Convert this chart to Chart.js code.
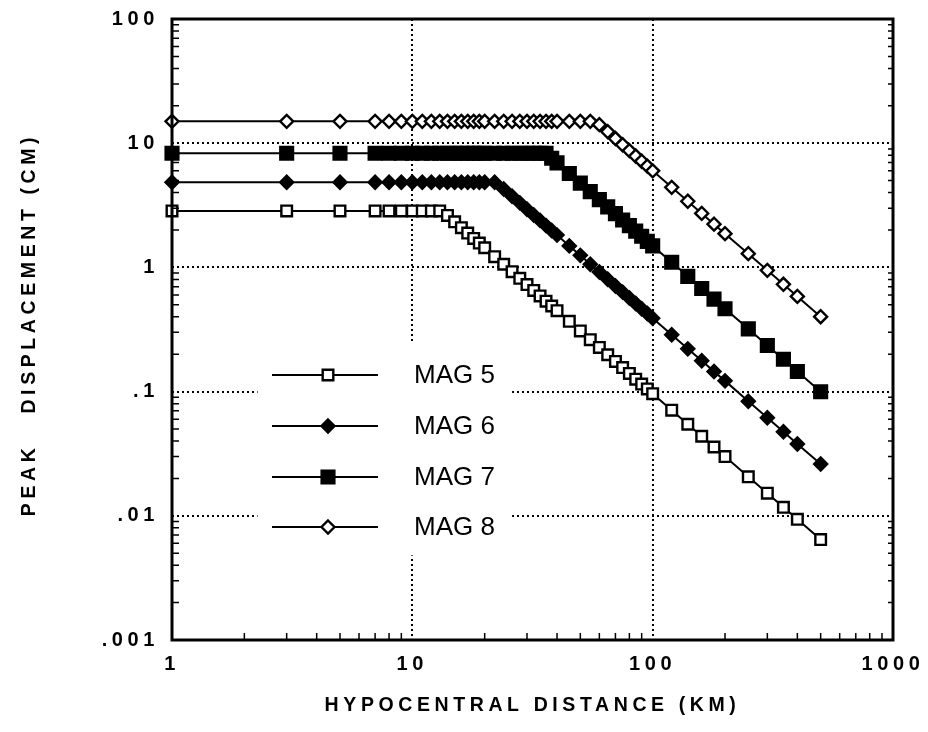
<!DOCTYPE html>
<html><head><meta charset="utf-8">
<script src="https://cdn.jsdelivr.net/npm/chart.js@4.4.1/dist/chart.umd.min.js"></script>
<style>html,body{margin:0;padding:0;background:#fff}#wrap{width:928px;height:732px}</style>
</head><body><div id="wrap"><canvas id="c" width="928" height="732"></canvas></div>
<script>
// ---- data ----
const distances = [1,3,5,7,8,9,10,11,12,13,14,15,16,17,18,19,20,22,24,26,28,30,32,34,36,38,40,45,50,55,60,65,70,75,80,85,90,95,100,120,140,160,180,200,250,300,350,400,500];
const mag5 = [2.85,2.85,2.85,2.85,2.85,2.85,2.85,2.85,2.85,2.85,2.62,2.33,2.09,1.89,1.71,1.57,1.44,1.22,1.06,0.924,0.816,0.727,0.652,0.589,0.535,0.489,0.448,0.368,0.308,0.262,0.227,0.198,0.175,0.156,0.140,0.126,0.115,0.105,0.0962,0.0708,0.0546,0.0437,0.0358,0.0300,0.0206,0.0152,0.0117,0.00937,0.00644];
const mag6 = [4.85,4.85,4.85,4.85,4.85,4.85,4.85,4.85,4.85,4.85,4.85,4.85,4.85,4.85,4.85,4.85,4.85,4.85,4.28,3.74,3.31,2.94,2.64,2.39,2.17,1.98,1.82,1.49,1.25,1.06,0.919,0.803,0.709,0.632,0.567,0.512,0.465,0.425,0.390,0.287,0.221,0.177,0.145,0.122,0.0836,0.0615,0.0475,0.0379,0.0261];
const mag7 = [8.3,8.3,8.3,8.3,8.3,8.3,8.3,8.3,8.3,8.3,8.3,8.3,8.3,8.3,8.3,8.3,8.3,8.3,8.3,8.3,8.3,8.3,8.3,8.3,8.3,7.57,6.94,5.70,4.77,4.07,3.51,3.07,2.71,2.41,2.17,1.96,1.78,1.62,1.49,1.10,0.847,0.676,0.555,0.465,0.320,0.235,0.182,0.145,0.0997];
const mag8 = [15,15,15,15,15,15,15,15,15,15,15,15,15,15,15,15,15,15,15,15,15,15,15,15,15,15,15,15,15,15,14.1,12.4,10.9,9.72,8.72,7.88,7.16,6.54,5.99,4.41,3.41,2.72,2.23,1.87,1.29,0.947,0.731,0.584,0.401];
const seriesNames = ['MAG 5','MAG 6','MAG 7','MAG 8'];
const xTickValues = [1,10,100,1000];
const xTickLabels = ['1','10','100','1000'];
const yTickValues = [0.001,0.01,0.1,1,10,100];
const yTickLabels = ['.001','.01','.1','1','10','100'];
const minorMultipliers = [2,3,4,5,6,7,8,9];

const toPts = arr => distances.map((d,i)=>({x:d,y:arr[i]}));
const FONT = '"Liberation Sans", Arial, Helvetica, sans-serif';

function mkSet(label, arr, style, radius, fill){
  return {label, data: toPts(arr), borderColor:'#000', borderWidth:2,
    pointStyle: style, pointRadius: radius, pointBackgroundColor: fill,
    pointBorderColor:'#000', pointBorderWidth:2.4, fill:false, tension:0, clip:false};
}

function drawMarker(ctx, style, r, fill, x, y){
  ctx.beginPath();
  if(style==='rect'){ const s=r*Math.SQRT1_2; ctx.rect(x-s,y-s,2*s,2*s); }
  else { ctx.moveTo(x,y-r); ctx.lineTo(x+r,y); ctx.lineTo(x,y+r); ctx.lineTo(x-r,y); ctx.closePath(); }
  ctx.fillStyle=fill; ctx.fill(); ctx.lineWidth=2.4; ctx.strokeStyle='#000'; ctx.stroke();
}

const SPACING = '4.6px';
const spacingPlugin = {
  id:'spacing',
  beforeLayout(chart){ chart.ctx.letterSpacing=SPACING; },
  beforeDraw(chart){ chart.ctx.letterSpacing=SPACING; }
};

const framePlugin = {
  id:'frame',
  beforeDatasetsDraw(chart){
    const ctx=chart.ctx; const x=chart.scales.x, y=chart.scales.y;
    // white legend box that interrupts grid lines
    const l=x.getPixelForValue(2.27), r=x.getPixelForValue(26);
    const t=y.getPixelForValue(0.244), b=y.getPixelForValue(0.0048);
    ctx.save(); ctx.fillStyle='#fff'; ctx.fillRect(l,t,r-l,b-t); ctx.restore();
  },
  afterDraw(chart){
    const ctx=chart.ctx; const a=chart.chartArea; const x=chart.scales.x, y=chart.scales.y;
    ctx.save();
    ctx.letterSpacing='0px';
    ctx.strokeStyle='#000'; ctx.lineWidth=3;
    ctx.strokeRect(a.left,a.top,a.right-a.left,a.bottom-a.top);
    ctx.lineWidth=1.5;
    ctx.beginPath();
    for(let k=0;k<xTickValues.length-1;k++){
      for(const m of minorMultipliers){
        const px=x.getPixelForValue(xTickValues[k]*m);
        ctx.moveTo(px,a.bottom); ctx.lineTo(px,a.bottom-7);
      }
    }
    for(let k=0;k<yTickValues.length-1;k++){
      for(const m of minorMultipliers){
        const py=y.getPixelForValue(yTickValues[k]*m);
        ctx.moveTo(a.left,py); ctx.lineTo(a.left+7,py);
        ctx.moveTo(a.right,py); ctx.lineTo(a.right-5,py);
      }
    }
    ctx.stroke();
    // legend
    const ys=[375,426,477,527];
    chart.data.datasets.forEach((ds,i)=>{
      const yy=ys[i];
      ctx.lineWidth=2; ctx.beginPath(); ctx.moveTo(272,yy); ctx.lineTo(378,yy); ctx.stroke();
      drawMarker(ctx, ds.pointStyle, ds.pointRadius, ds.pointBackgroundColor, 328, yy);
      ctx.fillStyle='#000'; ctx.font='26px '+FONT; ctx.textBaseline='middle'; ctx.textAlign='left';
      ctx.fillText(seriesNames[i], 414, yy+1);
    });
    ctx.restore();
  }
};

new Chart(document.getElementById('c'), {
  type:'line',
  data:{ datasets:[
    mkSet(seriesNames[0], mag5, 'rect', 7.5, '#fff'),
    mkSet(seriesNames[1], mag6, 'rectRot', 6.5, '#000'),
    mkSet(seriesNames[2], mag7, 'rect', 9, '#000'),
    mkSet(seriesNames[3], mag8, 'rectRot', 6.5, '#fff')
  ]},
  options:{
    responsive:false, animation:false, devicePixelRatio:1,
    layout:{padding:{left:18,right:35,top:19,bottom:15}},
    plugins:{legend:{display:false}, tooltip:{enabled:false}},
    scales:{
      x:{ type:'logarithmic', min:1, max:1000,
        afterBuildTicks: s => { s.ticks = xTickValues.map(v=>({value:v})); },
        afterFit: s => { s.height = 77; },
        ticks:{ autoSkip:false, maxRotation:0, padding:0, color:'#000',
          font:{family:FONT, weight:'bold', size:20},
          callback: v => { const i=xTickValues.indexOf(v); return i>=0?xTickLabels[i]:''; } },
        grid:{ color:'#000', lineWidth:2, drawTicks:true, tickLength:12, tickColor:'rgba(0,0,0,0)' },
        border:{ display:false, dash:[2,3] },
        title:{ display:true, text:'HYPOCENTRAL DISTANCE (KM)', color:'#000',
          font:{family:FONT, weight:'bold', size:19.5}, padding:{top:0,bottom:0} }
      },
      y:{ type:'logarithmic', min:0.001, max:100,
        afterBuildTicks: s => { s.ticks = yTickValues.map(v=>({value:v})); },
        afterFit: s => { s.width = 154; },
        ticks:{ autoSkip:false, padding:0, color:'#000',
          font:{family:FONT, weight:'bold', size:20},
          callback: v => { const i=yTickValues.indexOf(v); return i>=0?yTickLabels[i]:''; } },
        grid:{ color:'#000', lineWidth:2, drawTicks:true, tickLength:13, tickColor:'rgba(0,0,0,0)' },
        border:{ display:false, dash:[2,3] },
        title:{ display:true, text:' PEAK   DISPLACEMENT (CM)', color:'#000',
          font:{family:FONT, weight:'bold', size:19.5}, padding:{top:0,bottom:0} }
      }
    }
  },
  plugins:[spacingPlugin, framePlugin]
});
</script></body></html>
